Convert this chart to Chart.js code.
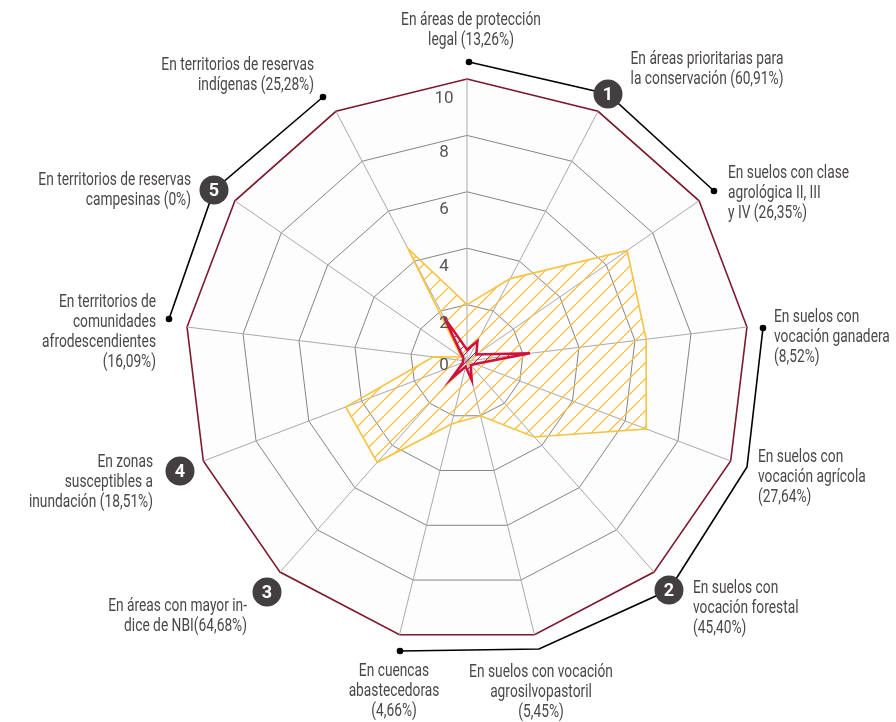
<!DOCTYPE html>
<html lang="es">
<head>
<meta charset="utf-8">
<title>Radar</title>
<script src="https://cdn.jsdelivr.net/npm/chart.js@4"></script>
<style>
  html, body { margin: 0; padding: 0; background: #fff; }
  canvas { display: block; }
</style>
</head>
<body>
<canvas id="grafico" width="896" height="722"></canvas>
<script>
// Categorías (una por eje, en sentido horario desde arriba)
const categorias = [
  ["En áreas de protección", "legal (13,26%)"],
  ["En áreas prioritarias para", "la conservación (60,91%)"],
  ["En suelos con clase", "agrológica II, III", "y IV (26,35%)"],
  ["En suelos con", "vocación ganadera", "(8,52%)"],
  ["En suelos con", "vocación agrícola", "(27,64%)"],
  ["En suelos con", "vocación forestal", "(45,40%)"],
  ["En suelos con vocación", "agrosilvopastoril", "(5,45%)"],
  ["En cuencas", "abastecedoras", "(4,66%)"],
  ["En áreas con mayor in-", "dice de NBI(64,68%)"],
  ["En zonas", "susceptibles a", "inundación (18,51%)"],
  ["En territorios de", "comunidades", "afrodescendientes", "(16,09%)"],
  ["En territorios de reservas", "campesinas (0%)"],
  ["En territorios de reservas", "indígenas (25,28%)"]
];

// Valores
const serieAmarilla = [2.0, 3.3, 6.9, 6.4, 6.8, 3.6, 2.0, 2.3, 4.8, 4.6, 1.2, 0.25, 4.5];
const serieRoja = [0.4, 0.8, 0.4, 2.25, 0.3, 0.2, 0.7, 0.2, 0.85, 0.15, 0.15, 0.15, 1.75];
const ticks = [0, 2, 4, 6, 8, 10];
const insignias = ["1", "2", "3", "4", "5"];

// Posición de cada etiqueta: [x, y primera línea, alineación]
const posEtiquetas = [
  [471, 20, "center"], [707, 59, "center"], [728, 173, "left"], [774, 317, "left"],
  [758, 457, "left"], [693, 588, "left"], [541, 672, "center"], [394, 671, "center"],
  [247, 606, "right"], [153, 462, "right"], [156, 302, "right"], [191, 180, "right"],
  [314, 65, "right"]
];
const posTicks = [366, 324, 267, 210, 153, 99];
const posInsignias = [[608, 94], [669, 590], [267, 592], [180, 471], [214, 190]];
const guias = [
  [[469, 62], [608, 94], [714, 191]],
  [[763, 328], [747, 467], [669, 590], [539, 649], [400, 651]],
  [[323, 97], [214, 190], [169, 319]]
];

const FUENTE = 'Roboto, "Liberation Sans", sans-serif';
const GRIS_TEXTO = "#4b4748";
const ESTRECHO = 0.765; // no hay fuente condensada instalada: se comprime en horizontal

// Trama diagonal para el relleno
function trama(color, paso, grosor) {
  const c = document.createElement("canvas");
  c.width = c.height = paso;
  const g = c.getContext("2d");
  g.strokeStyle = color;
  g.lineWidth = grosor;
  g.beginPath();
  g.moveTo(-2, paso + 2);
  g.lineTo(paso + 2, -2);
  g.stroke();
  return g.createPattern(c, "repeat");
}

function textoEstrecho(ctx, t, x, y) {
  ctx.save();
  ctx.translate(x, y);
  ctx.scale(ESTRECHO, 1);
  ctx.fillText(t, 0, 0);
  ctx.restore();
}

// Etiquetas, guías e insignias se dibujan encima del radar
const anotaciones = {
  id: "anotaciones",
  afterDraw(chart) {
    const ctx = chart.ctx;
    ctx.save();

    ctx.strokeStyle = "#000";
    ctx.lineWidth = 1.6;
    guias.forEach(g => {
      ctx.beginPath();
      g.forEach((p, i) => i ? ctx.lineTo(p[0], p[1]) : ctx.moveTo(p[0], p[1]));
      ctx.stroke();
      [g[0], g[g.length - 1]].forEach(p => {
        ctx.beginPath();
        ctx.arc(p[0], p[1], 3.3, 0, Math.PI * 2);
        ctx.fillStyle = "#000";
        ctx.fill();
      });
    });

    ctx.textBaseline = "middle";
    ctx.font = "18px " + FUENTE;
    ctx.fillStyle = GRIS_TEXTO;
    categorias.forEach((lineas, i) => {
      const [x, y, alin] = posEtiquetas[i];
      ctx.textAlign = alin;
      lineas.forEach((t, j) => textoEstrecho(ctx, t, x, y + j * 20));
    });

    ctx.textAlign = "center";
    ctx.fillStyle = "#555";
    ctx.font = "17px " + FUENTE;
    ticks.forEach((t, i) => ctx.fillText(String(t), 444, posTicks[i]));

    insignias.forEach((n, i) => {
      const [x, y] = posInsignias[i];
      ctx.beginPath();
      ctx.arc(x, y, 14.5, 0, Math.PI * 2);
      ctx.fillStyle = "#433f40";
      ctx.fill();
      ctx.fillStyle = "#fff";
      ctx.font = "bold 18px " + FUENTE;
      ctx.fillText(n, x, y + 1);
    });
    ctx.restore();
  }
};

new Chart(document.getElementById("grafico"), {
  type: "radar",
  data: {
    labels: categorias.map(l => l.join(" ")),
    datasets: [
      {
        label: "Serie roja",
        data: serieRoja,
        borderColor: "#d2103c",
        borderWidth: 2.5,
        backgroundColor: trama("#d2103c", 9, 1),
        fill: true,
        pointRadius: 0,
        order: 1
      },
      {
        label: "Serie amarilla",
        data: serieAmarilla,
        borderColor: "#f6c343",
        borderWidth: 1.6,
        backgroundColor: trama("#f6c343", 16, 1.3),
        fill: true,
        pointRadius: 0,
        order: 2
      }
    ]
  },
  options: {
    responsive: false,
    animation: false,
    layout: { padding: { left: 185, right: 147, top: 79, bottom: 79 } },
    plugins: { legend: { display: false }, tooltip: { enabled: false } },
    scales: {
      r: {
        min: 0,
        max: 10,
        backgroundColor: "#fdfdfd",
        ticks: { display: false, stepSize: 2 },
        pointLabels: { display: false },
        angleLines: { color: "#aaaaaa", lineWidth: 1 },
        grid: {
          color: c => (c.tick && c.tick.value === 10 ? "#7b1a2c" : "#858585"),
          lineWidth: c => (c.tick && c.tick.value === 10 ? 1.6 : 1)
        }
      }
    }
  },
  plugins: [anotaciones]
});
</script>
</body>
</html>
